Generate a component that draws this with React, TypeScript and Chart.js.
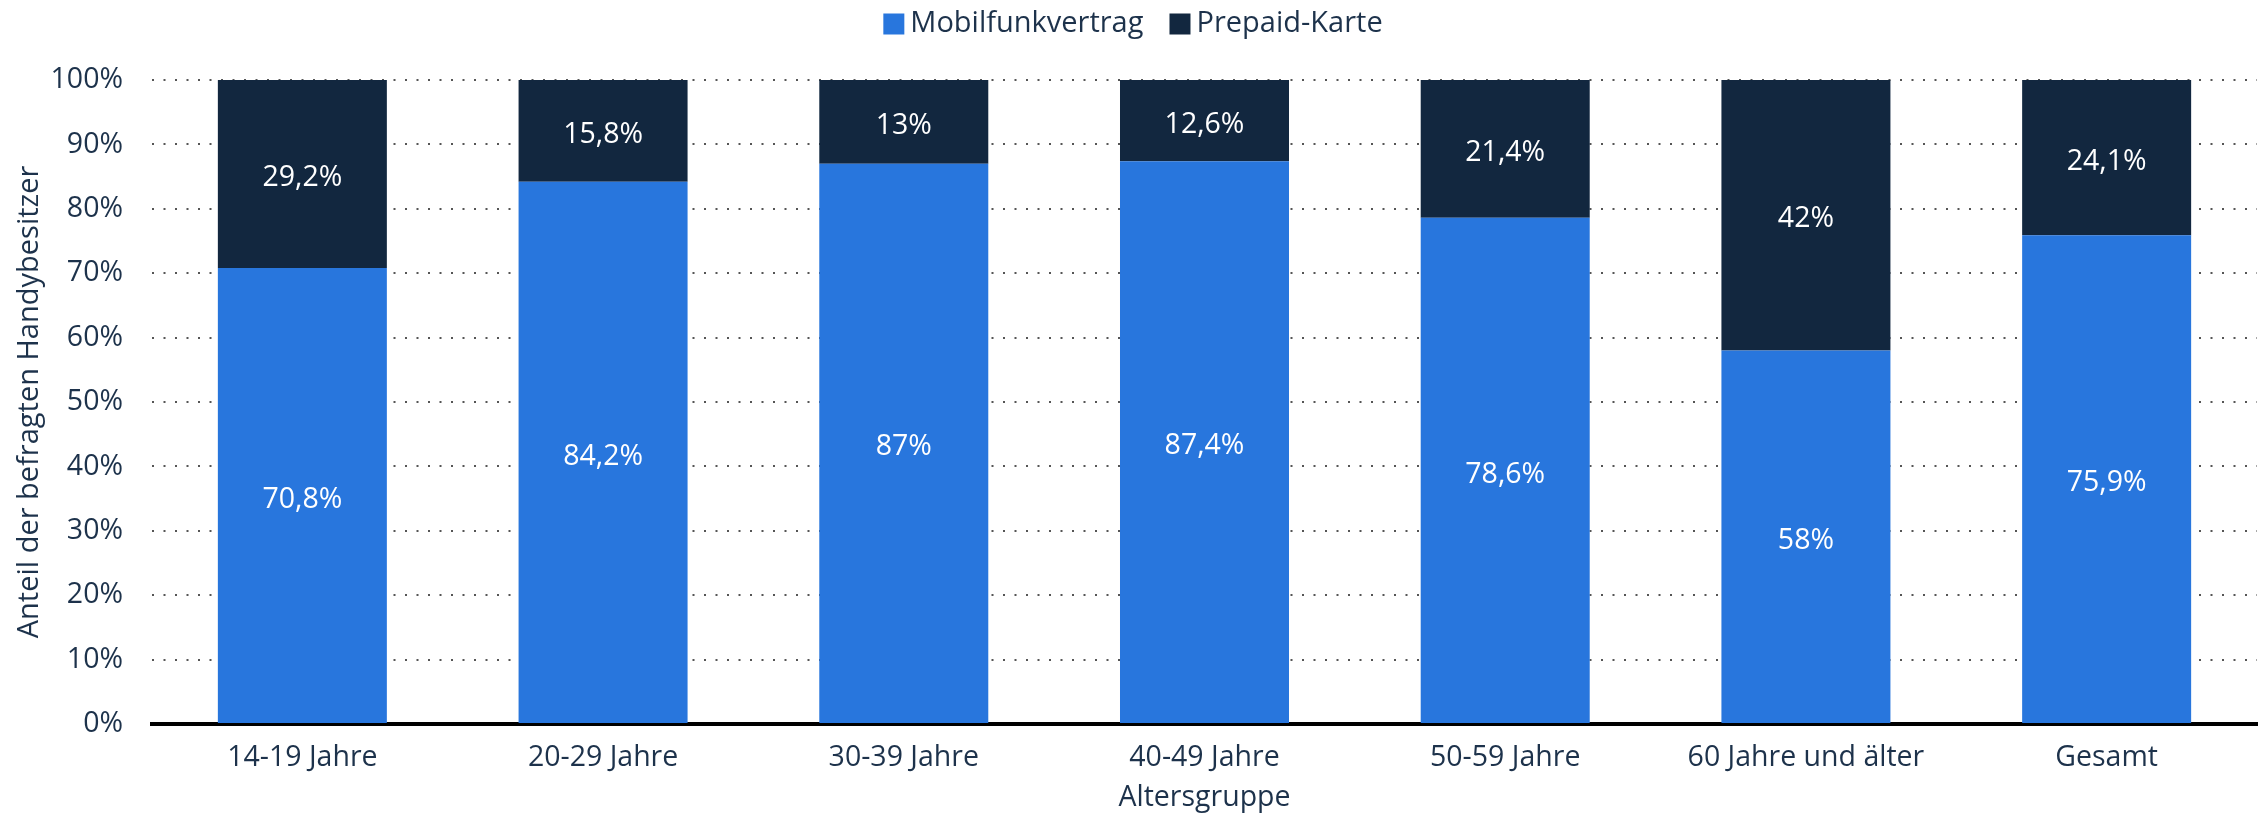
import React, { useEffect, useRef } from "react";
import { Chart, registerables } from "chart.js";

Chart.register(...registerables);

const categories = [
  "14-19 Jahre",
  "20-29 Jahre",
  "30-39 Jahre",
  "40-49 Jahre",
  "50-59 Jahre",
  "60 Jahre und älter",
  "Gesamt",
];
const seriesNames = ["Mobilfunkvertrag", "Prepaid-Karte"];
const mobilfunk = [70.8, 84.2, 87, 87.4, 78.6, 58, 75.9];
const prepaid = [29.2, 15.8, 13, 12.6, 21.4, 42, 24.1];
const yAxisTitle = "Anteil der befragten Handybesitzer";
const xAxisTitle = "Altersgruppe";

const BLUE = "#2876DD";
const NAVY = "#12273F";
const TEXT = "#1d324b";
const FONT = "'Open Sans', 'Noto Sans', sans-serif";
const FS = 28.5;

const fmt = (v: number) => String(v).replace(".", ",") + "%";

const labelPlugin = {
  id: "segLabels",
  afterDatasetsDraw(chart: any) {
    const ctx = chart.ctx;
    ctx.save();
    ctx.font = `${FS}px ${FONT}`;
    ctx.fillStyle = "#ffffff";
    ctx.textAlign = "center";
    ctx.textBaseline = "middle";
    chart.data.datasets.forEach((ds: any, di: number) => {
      const meta = chart.getDatasetMeta(di);
      meta.data.forEach((el: any, i: number) => {
        const y = (el.y + el.base) / 2 + 4;
        ctx.fillText(fmt(ds.data[i]), el.x, y);
      });
    });
    ctx.restore();
  },
};

const legendPlugin = {
  id: "customLegend",
  afterDraw(chart: any) {
    const ctx = chart.ctx;
    ctx.save();
    ctx.font = `29px ${FONT}`;
    ctx.textBaseline = "middle";
    ctx.textAlign = "left";
    const box = 21;
    const gap = 6;
    const itemGap = 26;
    const items = chart.data.datasets.map((ds: any) => ({
      label: ds.label,
      color: ds.backgroundColor,
      w: ctx.measureText(ds.label).width,
    }));
    const total =
      items.reduce((s: number, it: any) => s + box + gap + it.w, 0) +
      itemGap * (items.length - 1);
    let x = chart.width / 2 - total / 2;
    const cy = 24;
    items.forEach((it: any) => {
      ctx.fillStyle = it.color;
      ctx.fillRect(x, cy - box / 2, box, box);
      ctx.fillStyle = TEXT;
      ctx.fillText(it.label, x + box + gap, cy);
      x += box + gap + it.w + itemGap;
    });
    ctx.restore();
  },
};

export default function App() {
  const ref = useRef<HTMLCanvasElement | null>(null);
  useEffect(() => {
    if (!ref.current) return;
    const chart = new Chart(ref.current, {
      type: "bar",
      data: {
        labels: categories,
        datasets: [
          {
            label: seriesNames[0],
            data: mobilfunk,
            backgroundColor: BLUE,
            barPercentage: 0.562,
            categoryPercentage: 1,
          },
          {
            label: seriesNames[1],
            data: prepaid,
            backgroundColor: NAVY,
            barPercentage: 0.562,
            categoryPercentage: 1,
          },
        ],
      },
      options: {
        animation: false,
        responsive: true,
        maintainAspectRatio: false,
        layout: { padding: { left: 0, right: 9, top: 80, bottom: 0 } },
        plugins: {
          legend: { display: false },
          tooltip: { enabled: false },
        },
        scales: {
          x: {
            stacked: true,
            grid: { display: false, drawTicks: false },
            border: { display: true, color: "#000000", width: 4 },
            ticks: {
              color: TEXT,
              font: { family: FONT, size: FS },
              padding: 17,
              maxRotation: 0,
              autoSkip: false,
            },
            title: {
              display: true,
              text: xAxisTitle,
              color: TEXT,
              font: { family: FONT, size: FS, lineHeight: 1.2 },
              padding: { top: 0, bottom: 0 },
            },
            afterFit(scale: any) {
              scale.height = 91;
            },
          },
          y: {
            stacked: true,
            min: 0,
            max: 100,
            grid: {
              color: "#555555",
              lineWidth: 2,
              drawTicks: false,
            },
            border: { display: false, dash: [2, 9.5] },
            ticks: {
              stepSize: 10,
              color: TEXT,
              font: { family: FONT, size: FS },
              padding: 29,
              callback: (v: any) => v + "%",
            },
            title: {
              display: true,
              text: yAxisTitle,
              color: TEXT,
              font: { family: FONT, size: 29, lineHeight: 1.2 },
              padding: { top: 12, bottom: 0 },
            },
            afterFit(scale: any) {
              scale.width = 152;
            },
          },
        },
      },
      plugins: [labelPlugin, legendPlugin],
    });
    return () => chart.destroy();
  }, []);
  return (
    <div
      style={{
        position: "fixed",
        left: 0,
        top: 0,
        width: 2266,
        height: 815,
        background: "#ffffff",
      }}
    >
      <canvas ref={ref} />
    </div>
  );
}
